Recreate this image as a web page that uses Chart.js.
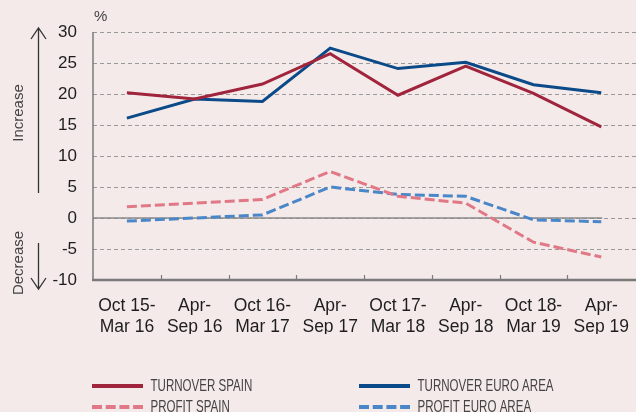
<!DOCTYPE html>
<html>
<head>
<meta charset="utf-8">
<script src="https://cdn.jsdelivr.net/npm/chart.js@4"></script>
<style>
  html, body { margin: 0; padding: 0; background: #f5eaea; }
  #wrap { width: 636px; height: 412px; position: relative; }
</style>
</head>
<body>
<div id="wrap"><canvas id="chart" width="636" height="412"></canvas></div>
<script>
const periods = [
    ['Oct 15-', 'Mar 16'], ['Apr-', 'Sep 16'], ['Oct 16-', 'Mar 17'], ['Apr-', 'Sep 17'],
    ['Oct 17-', 'Mar 18'], ['Apr-', 'Sep 18'], ['Oct 18-', 'Mar 19'], ['Apr-', 'Sep 19']
];
const turnoverSpain = [20.2, 19.2, 21.6, 26.5, 19.8, 24.5, 20.1, 14.7];
const turnoverEuro = [16.1, 19.2, 18.8, 27.4, 24.1, 25.1, 21.5, 20.2];
const profitSpain = [1.8, 2.4, 3.0, 7.5, 3.5, 2.4, -3.9, -6.3];
const profitEuro = [-0.5, 0.0, 0.5, 5.0, 3.8, 3.5, -0.3, -0.6];

const axisGrey = '#7a7a7a';
const textDark = '#1e1e1e';
const textGrey = '#444';

const ctx = document.getElementById('chart').getContext('2d');

// grid, axis lines and inward tick marks, drawn from the scales
const gridPlugin = {
    id: 'grid',
    beforeDraw(chart) {
        const c = chart.ctx;
        c.save();
        c.fillStyle = '#f5eaea';
        c.fillRect(0, 0, chart.width, chart.height);
        c.restore();
    },
    beforeDatasetsDraw(chart) {
        const c = chart.ctx;
        const a = chart.chartArea;
        const y = chart.scales.y;
        const x = chart.scales.x;
        c.save();
        c.strokeStyle = '#9a9a9a';
        c.lineWidth = 1;
        c.setLineDash([4, 3]);
        y.ticks.forEach(t => {
            if (t.value <= y.min) return;
            const py = Math.round(y.getPixelForValue(t.value)) + 0.5;
            c.beginPath();
            c.moveTo(a.left, py);
            c.lineTo(chart.width, py);
            c.stroke();
        });
        c.setLineDash([]);
        // zero line
        c.strokeStyle = '#8a8a8a';
        c.lineWidth = 1.5;
        const z = y.getPixelForValue(0);
        c.beginPath();
        c.moveTo(a.left, z);
        c.lineTo(x.getPixelForValue(periods.length - 1) + 1, z);
        c.stroke();
        // left axis
        c.strokeStyle = axisGrey;
        c.lineWidth = 1.5;
        c.beginPath();
        c.moveTo(a.left, a.top);
        c.lineTo(a.left, a.bottom);
        c.stroke();
        // bottom axis
        c.lineWidth = 2.5;
        c.beginPath();
        c.moveTo(a.left - 1, a.bottom);
        c.lineTo(chart.width, a.bottom);
        c.stroke();
        // tick marks between categories
        c.lineWidth = 1.2;
        for (let i = 0; i < periods.length - 1; i++) {
            const px = Math.round((x.getPixelForValue(i) + x.getPixelForValue(i + 1)) / 2) + 0.5;
            c.beginPath();
            c.moveTo(px, a.bottom);
            c.lineTo(px, a.bottom - 5);
            c.stroke();
        }
        c.restore();
    },
    afterDraw(chart) {
        const c = chart.ctx;
        c.save();
        c.fillStyle = textGrey;
        c.strokeStyle = '#333';
        c.font = '15px "Liberation Sans", Arial, sans-serif';
        c.textBaseline = 'middle';
        c.textAlign = 'left';
        c.fillText('%', 94, 17);

        // increase / decrease
        c.save();
        c.translate(19, 113);
        c.rotate(-Math.PI / 2);
        c.textAlign = 'center';
        c.fillText('Increase', 0, 0);
        c.restore();
        c.save();
        c.translate(19, 263);
        c.rotate(-Math.PI / 2);
        c.textAlign = 'center';
        c.fillText('Decrease', 0, 0);
        c.restore();

        c.lineWidth = 1.3;
        c.beginPath();
        c.moveTo(38.5, 193); c.lineTo(38.5, 28);
        c.moveTo(31, 39); c.lineTo(38.5, 28); c.lineTo(46, 39);
        c.moveTo(38.5, 243); c.lineTo(38.5, 289);
        c.moveTo(31, 278); c.lineTo(38.5, 289); c.lineTo(46, 278);
        c.stroke();

        // legend (condensed text)
        const pos = [[92, 386], [92, 407], [359, 386], [359, 407]];
        c.font = '16.5px "Liberation Sans", Arial, sans-serif';
        chart.data.datasets.forEach((ds, i) => {
            const [lx, ly] = pos[i];
            c.strokeStyle = ds.borderColor;
            c.lineWidth = 4;
            c.setLineDash(ds.borderDash ? [10, 3.7] : []);
            c.beginPath();
            c.moveTo(lx, ly);
            c.lineTo(lx + 51, ly);
            c.stroke();
            c.setLineDash([]);
            c.save();
            c.translate(lx + 58.5, ly);
            c.scale(0.7, 1);
            c.fillStyle = textGrey;
            c.fillText(ds.label, 0, 0);
            c.restore();
        });
        c.restore();
    }
};

const chart = new Chart(ctx, {
    type: 'line',
    data: {
        labels: periods,
        datasets: [
            { label: 'TURNOVER SPAIN', data: turnoverSpain, borderColor: '#a0253c', borderWidth: 3 },
            { label: 'PROFIT SPAIN', data: profitSpain, borderColor: '#e07886', borderWidth: 3, borderDash: [10, 4] },
            { label: 'TURNOVER EURO AREA', data: turnoverEuro, borderColor: '#0b4a88', borderWidth: 3 },
            { label: 'PROFIT EURO AREA', data: profitEuro, borderColor: '#4a87c8', borderWidth: 3, borderDash: [10, 4] }
        ]
    },
    options: {
        responsive: false,
        animation: false,
        layout: { padding: { left: 0, right: 0, top: 32, bottom: 78 } },
        elements: { point: { radius: 0 }, line: { tension: 0, borderCapStyle: 'butt' } },
        plugins: { legend: { display: false }, tooltip: { enabled: false } },
        scales: {
            x: {
                offset: true,
                afterFit(s) { s.height = 54; },
                grid: { display: false },
                border: { display: false },
                ticks: {
                    color: textDark,
                    padding: 7,
                    maxRotation: 0,
                    autoSkip: false,
                    font: { family: '"Liberation Sans", Arial, sans-serif', size: 17.5, lineHeight: 1.23 }
                }
            },
            y: {
                min: -10,
                max: 30,
                afterFit(s) { s.width = 93; },
                grid: { display: false },
                border: { display: false },
                ticks: {
                    stepSize: 5,
                    color: textDark,
                    padding: 8,
                    font: { family: '"Liberation Sans", Arial, sans-serif', size: 17 }
                }
            }
        }
    },
    plugins: [gridPlugin]
});
</script>
</body>
</html>
